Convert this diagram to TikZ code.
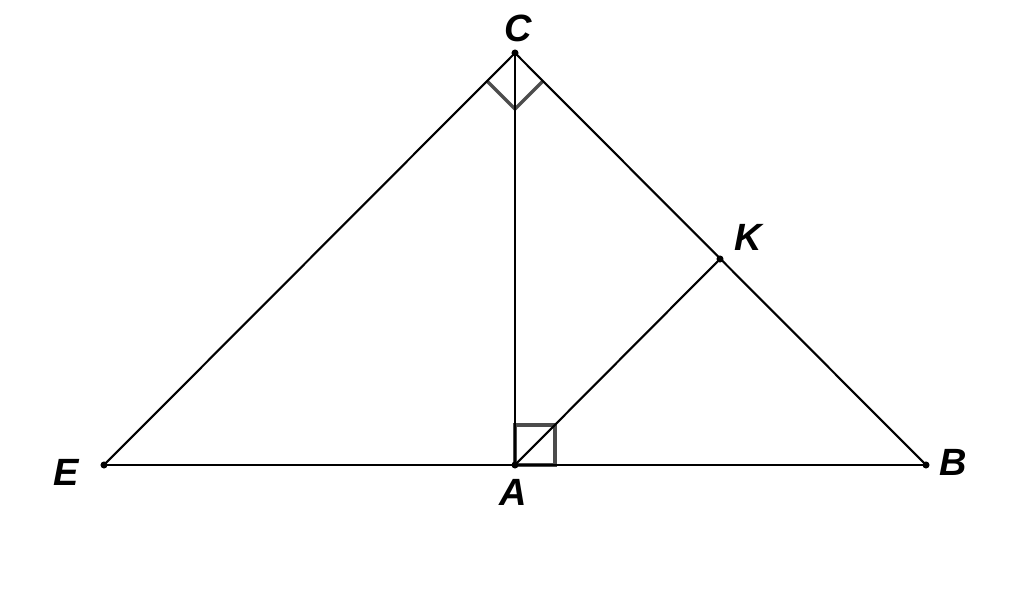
\documentclass[tikz,border=0pt]{standalone}
\usepackage{fontspec}
\setmainfont{Liberation Sans}
\tikzset{
  pt/.style={circle, fill=black, inner sep=0pt, minimum size=6pt},
  lbl/.style={font=\fontsize{27}{30}\selectfont\bfseries\itshape, inner sep=0pt},
  rmark/.style={draw=black!70, line width=2.4pt}
}
\begin{document}
\begin{tikzpicture}[x=0.025cm, y=0.025cm, line width=1.5pt]
		  \useasboundingbox (0,0) rectangle (1024,602);
		  \coordinate (E) at (104,137);
		  \coordinate (A) at (515,137);
		  \coordinate (B) at (926,137);
		  \coordinate (C) at (515,549);
		  \coordinate (K) at (720,343);
		  % right angle marks
		  \draw[rmark] (515,137) -- (555,137) -- (555,177) -- (515,177) -- cycle;
		  \draw[rmark] (487,521) -- (515,493) -- (543,521);
		  \draw (E) -- (B);
		  \draw (E) -- (C) -- (B);
		  \draw (C) -- (A);
		  \draw (A) -- (K);
		  \foreach \p in {E,A,B,C,K} \node[pt, minimum size=5pt] (d\p) at (\p) {};
		  \node[lbl] (lC) at (518,574) {C};
		  \node[lbl] (lK) at (748,365) {K};
		  \node[lbl] (lE) at (66,130) {E};
		  \node[lbl] (lA) at (513,110) {A};
		  \node[lbl] (lB) at (953,140) {B};
		\end{tikzpicture}
\end{document}
